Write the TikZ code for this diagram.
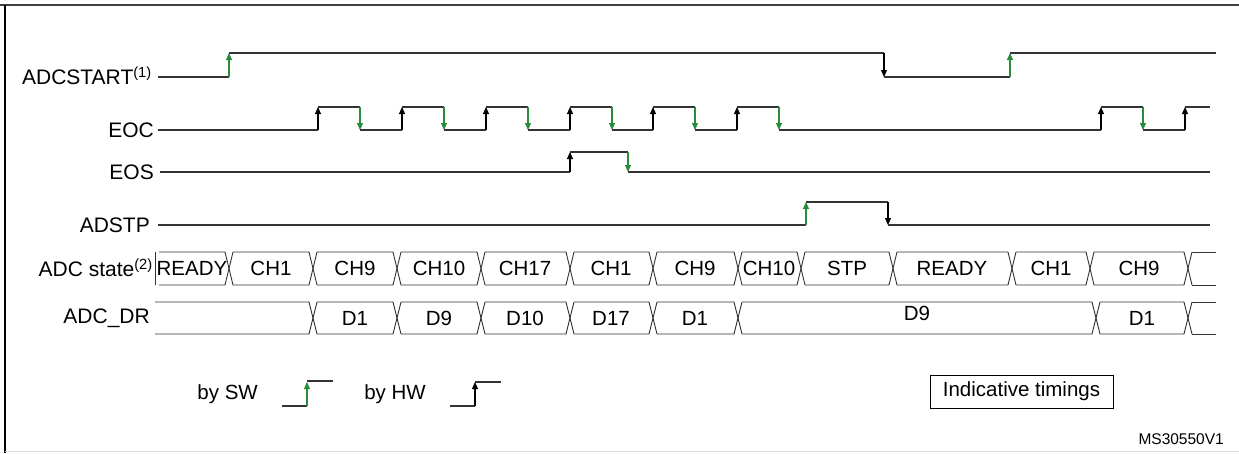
\documentclass[tikz,border=0pt]{standalone}
\usepackage{fontspec}
\setmainfont{Liberation Sans}
\usetikzlibrary{arrows.meta}
\definecolor{swgreen}{RGB}{40,140,60}
\tikzset{
  sig/.style={line width=1.1pt,draw=black!80},
  hwedge/.style={line width=1.1pt,black,-{Triangle[length=7pt,width=6pt]}},
  swedge/.style={line width=1.1pt,swgreen,-{Triangle[length=7pt,width=6pt]}},
  lbl/.style={anchor=east,inner sep=0pt,font=\fontsize{21}{23}\selectfont},
  bustxt/.style={inner sep=0pt,font=\fontsize{20.5}{23}\selectfont},
}
\begin{document}
\begin{tikzpicture}[x=1pt,y=-1pt]
\useasboundingbox (0,0) rectangle (1239,453);
% frame
\draw[line width=2.5pt,black!75] (0,5) -- (1239,5);
\draw[line width=2pt] (5,5) -- (5,453);
\draw[line width=0.6pt,black!15] (5,451) -- (1239,451);
% labels
\node[lbl] (l1) at (152,76) {ADCSTART\textsuperscript{(1)}};
\node[lbl] (l2) at (154,130) {EOC};
\node[lbl] (l3) at (154,172) {EOS};
\node[lbl] (l4) at (150,225) {ADSTP};
\node[lbl] (l5) at (153,268) {ADC state\textsuperscript{(2)}};
\node[lbl] (l6) at (150,318) {ADC\_DR};
% ADCSTART
\draw[sig] (158,77) -- (229,77);
\draw[swedge] (229,77) -- (229,53);
\draw[sig] (229,53) -- (884,53);
\draw[hwedge] (884,53) -- (884,77);
\draw[sig] (884,77) -- (1010,77);
\draw[swedge] (1010,77) -- (1010,53);
\draw[sig] (1010,53) -- (1216,53);
% EOC
\def\lo{130}\def\hi{107}
\draw[sig] (158,\lo) -- (318,\lo);
\foreach \r/\f/\n in {318/360/402,402/444/486,486/528/570,570/612/653,653/695/737,737/779/1101}{
  \draw[hwedge] (\r,\lo) -- (\r,\hi);
  \draw[sig] (\r,\hi) -- (\f,\hi);
  \draw[swedge] (\f,\hi) -- (\f,\lo);
  \draw[sig] (\f,\lo) -- (\n,\lo);
}
\draw[hwedge] (1101,\lo) -- (1101,\hi);
\draw[sig] (1101,\hi) -- (1143,\hi);
\draw[swedge] (1143,\hi) -- (1143,\lo);
\draw[sig] (1143,\lo) -- (1185,\lo);
\draw[hwedge] (1185,\lo) -- (1185,\hi);
\draw[sig] (1185,\hi) -- (1210,\hi);
% EOS
\draw[sig] (160,172) -- (570,172);
\draw[hwedge] (570,172) -- (570,152);
\draw[sig] (570,152) -- (628,152);
\draw[swedge] (628,152) -- (628,172);
\draw[sig] (628,172) -- (1210,172);
% ADSTP
\draw[sig] (158,225) -- (806,225);
\draw[swedge] (806,225) -- (806,202);
\draw[sig] (806,202) -- (888,202);
\draw[hwedge] (888,202) -- (888,225);
\draw[sig] (888,225) -- (1210,225);
% ADC state bus
\def\bt{252}\def\bb{285}\def\bm{268.5}
\draw[sig,line width=0.9pt] (155,\bt) -- (155,\bb);
\foreach \a/\b in {155/229,229/313,313/397,397/481,481/570,570/653,653/738,738/801,801/893,893/1012,1012/1090,1090/1188}{
  \draw[sig,line width=0.9pt] (\a+4,\bt) -- (\b-4,\bt) -- (\b+4,\bb);
  \draw[sig,line width=0.9pt] (\a+4,\bb) -- (\b-4,\bb) -- (\b+4,\bt);
}
\draw[sig,line width=0.9pt] (1192,\bt) -- (1216,\bt);
\draw[sig,line width=0.9pt] (1192,\bb) -- (1216,\bb);
\node[bustxt] (s1) at (192,\bm) {READY};
\node[bustxt] (s2) at (271,\bm) {CH1};
\node[bustxt] (s3) at (355,\bm) {CH9};
\node[bustxt] (s4) at (439,\bm) {CH10};
\node[bustxt] (s5) at (525,\bm) {CH17};
\node[bustxt] (s6) at (611,\bm) {CH1};
\node[bustxt] (s7) at (695,\bm) {CH9};
\node[bustxt] (s8) at (769,\bm) {CH10};
\node[bustxt] (s9) at (847,\bm) {STP};
\node[bustxt] (s10) at (952,\bm) {READY};
\node[bustxt] (s11) at (1051,\bm) {CH1};
\node[bustxt] (s12) at (1139,\bm) {CH9};
% ADC_DR bus
\def\dt{302}\def\db{334}\def\dm{318}
\draw[sig,line width=0.9pt] (155,\dt) -- (309,\dt) -- (317,\db);
\draw[sig,line width=0.9pt] (155,\db) -- (309,\db) -- (317,\dt);
\foreach \a/\b in {313/397,397/481,481/570,570/653,653/738,738/1096,1096/1188}{
  \draw[sig,line width=0.9pt] (\a+4,\dt) -- (\b-4,\dt) -- (\b+4,\db);
  \draw[sig,line width=0.9pt] (\a+4,\db) -- (\b-4,\db) -- (\b+4,\dt);
}
\draw[sig,line width=0.9pt] (1192,\dt) -- (1216,\dt);
\draw[sig,line width=0.9pt] (1192,\db) -- (1216,\db);
\node[bustxt] (d1) at (355,\dm) {D1};
\node[bustxt] (d2) at (439,\dm) {D9};
\node[bustxt] (d3) at (525,\dm) {D10};
\node[bustxt] (d4) at (611,\dm) {D17};
\node[bustxt] (d5) at (695,\dm) {D1};
\node[bustxt] (d6) at (917,313) {D9};
\node[bustxt] (d7) at (1142,\dm) {D1};
% legend
\node[bustxt,anchor=east] (sw) at (258,394) {by SW};
\draw[sig] (282,406) -- (307,406);
\draw[swedge] (307,406) -- (307,382);
\draw[sig] (307,381) -- (333,381);
\node[bustxt,anchor=east] (hw) at (426,394) {by HW};
\draw[sig] (450,406) -- (475,406);
\draw[hwedge] (475,406) -- (475,382);
\draw[sig] (475,382) -- (501,382);
\node[draw,line width=0.9pt,minimum width=183pt,minimum height=33pt,inner sep=0pt,font=\fontsize{20.5}{23}\selectfont] (it) at (1021.5,391.5) {Indicative timings};
\node[anchor=east,inner sep=0pt,font=\fontsize{15.5}{17}\selectfont] (ms) at (1224,439) {MS30550V1};
\end{tikzpicture}
\end{document}
